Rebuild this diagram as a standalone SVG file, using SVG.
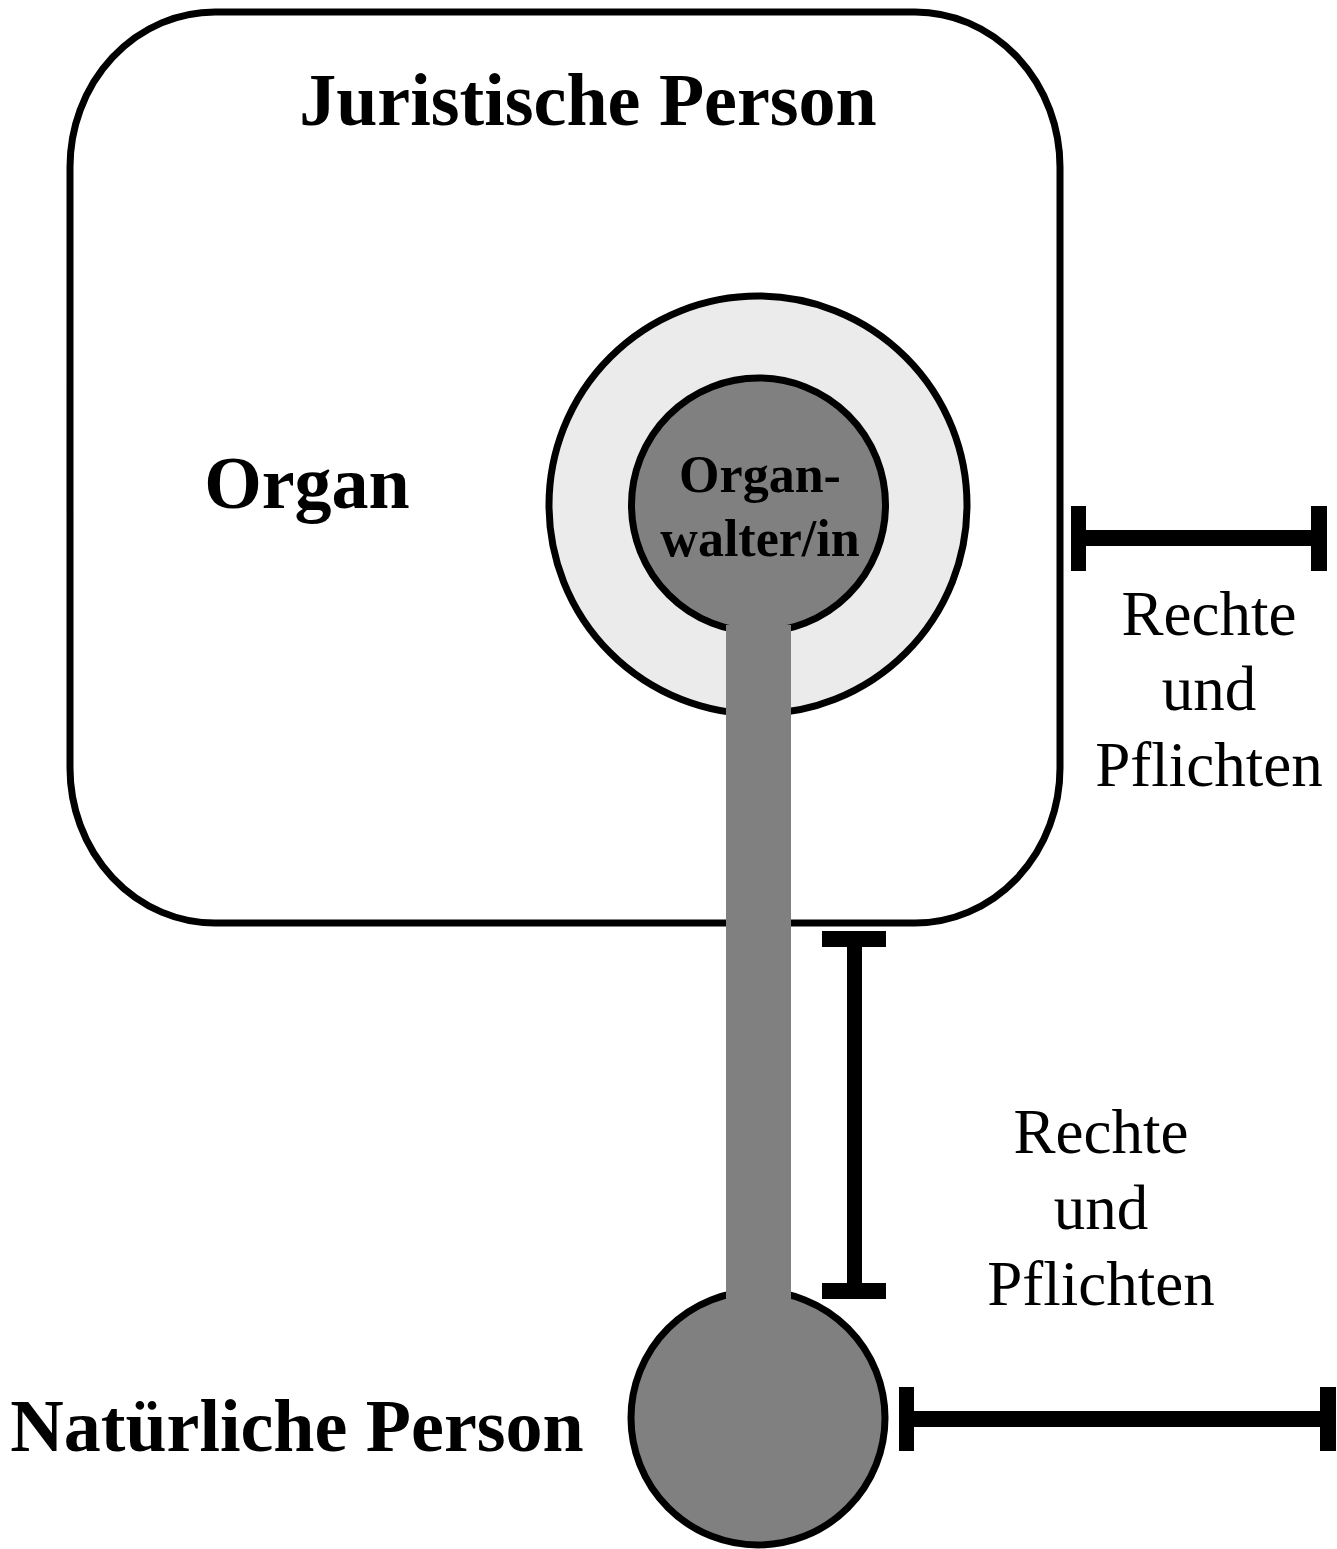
<svg xmlns="http://www.w3.org/2000/svg" width="1337" height="1549" viewBox="0 0 1337 1549">
<style>
.b{font-family:"Liberation Serif","Times New Roman",serif;font-weight:bold;fill:#000}
.r{font-family:"Liberation Serif","Times New Roman",serif;font-size:63px;fill:#000}
.ol{stroke:#000;stroke-width:7}
.bar{fill:#000}
</style>
<rect width="1337" height="1549" fill="#fff"/>
<g id="juristische-person">
<rect x="70" y="12" width="990" height="911" rx="145" ry="155" fill="#fff" class="ol"/>
<text class="b" x="588" y="125" font-size="74" text-anchor="middle">Juristische Person</text>
</g>
<g id="organ">
<circle cx="758" cy="505" r="209" fill="#ebebeb" class="ol"/>
<text class="b" x="307" y="508" font-size="74" text-anchor="middle">Organ</text>
</g>
<g id="organwalter">
<circle cx="758.5" cy="505" r="127" fill="#808080" class="ol"/>
<text class="b" x="760" y="492" font-size="52" text-anchor="middle">Organ-</text>
<text class="b" x="760" y="556" font-size="52" text-anchor="middle">walter/in</text>
</g>
<g id="natuerliche-person">
<circle cx="758" cy="1418" r="127" fill="#808080" class="ol"/>
<text class="b" x="297" y="1451" font-size="74" text-anchor="middle">Natürliche Person</text>
</g>
<g id="connectors">
<rect x="726" y="625" width="65" height="695" fill="#808080"/>
<g id="bracket-jp">
<rect class="bar" x="1071" y="530" width="256" height="16"/>
<rect class="bar" x="1071" y="506" width="15" height="65"/>
<rect class="bar" x="1311" y="506" width="16" height="65"/>
</g>
<g id="bracket-between">
<rect class="bar" x="847" y="931" width="15" height="367"/>
<rect class="bar" x="822" y="931" width="64" height="16"/>
<rect class="bar" x="822" y="1283" width="64" height="16"/>
</g>
<g id="bracket-np">
<rect class="bar" x="899" y="1411" width="437" height="16"/>
<rect class="bar" x="899" y="1387" width="15" height="64"/>
<rect class="bar" x="1320" y="1387" width="16" height="64"/>
</g>
</g>
<g id="label-right">
<text class="r" x="1209" y="635" text-anchor="middle">Rechte</text>
<text class="r" x="1209" y="710" text-anchor="middle">und</text>
<text class="r" x="1209" y="786" text-anchor="middle">Pflichten</text>
</g>
<g id="label-middle">
<text class="r" x="1101" y="1153" text-anchor="middle">Rechte</text>
<text class="r" x="1101" y="1229" text-anchor="middle">und</text>
<text class="r" x="1101" y="1305" text-anchor="middle">Pflichten</text>
</g>
</svg>
